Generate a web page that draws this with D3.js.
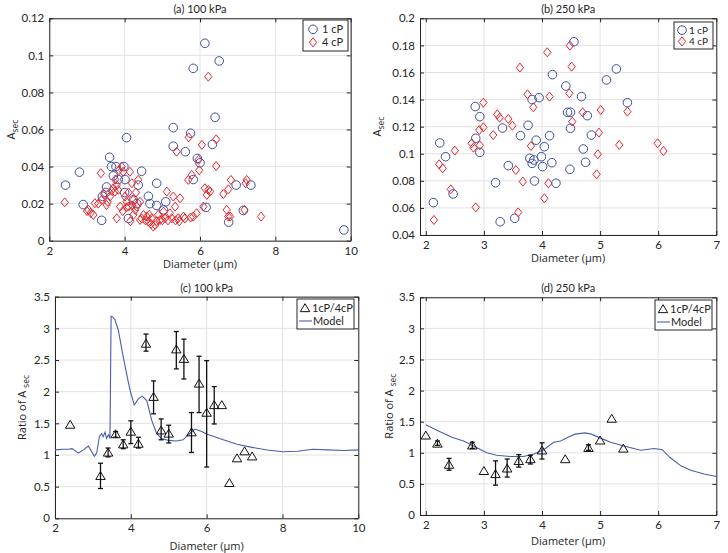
<!DOCTYPE html>
<html>
<head>
<meta charset="utf-8">
<script src="https://cdnjs.cloudflare.com/ajax/libs/d3/7.8.5/d3.min.js"></script>
<style>
  body { margin: 0; background: #fff; }
  svg { display: block; font-family: Lato, "Liberation Sans", sans-serif; font-weight: 400; }
</style>
</head>
<body>
<svg id="fig" width="728" height="553"></svg>
<script>
// (a) 100 kPa, A_sec vs diameter
var a1cP = [[2.43,0.030],[2.80,0.037],[2.90,0.0195],[3.39,0.011],[3.41,0.024],[3.50,0.026],[3.52,0.029],[3.60,0.045],
  [3.65,0.040],[3.70,0.035],[3.77,0.040],[3.83,0.033],[3.98,0.040],[4.01,0.033],[4.00,0.026],[4.05,0.0556],[4.10,0.012],
  [4.23,0.022],[4.36,0.030],[4.45,0.0375],[4.32,0.020],[4.63,0.024],[4.67,0.020],[4.85,0.031],[4.85,0.019],[5.03,0.0166],
  [5.09,0.021],[5.29,0.061],[5.29,0.051],[5.61,0.048],[5.75,0.058],[5.82,0.093],[5.82,0.033],[5.93,0.0444],[6.00,0.042],
  [6.13,0.1065],[6.16,0.018],[6.33,0.052],[6.40,0.0666],[6.51,0.097],[6.76,0.010],[6.96,0.030],[7.15,0.0163],[7.35,0.030],
  [9.82,0.0058]];
var a4cP = [[2.41,0.0207],[3.04,0.0166],[3.17,0.0139],[3.21,0.0202],[3.37,0.0364],[3.39,0.022],[3.52,0.0193],[3.61,0.0238],
  [3.70,0.0283],[3.74,0.0265],[3.79,0.030],[3.83,0.0274],[3.79,0.0121],[3.88,0.0184],[3.92,0.040],[3.96,0.0372],[4.01,0.0238],
  [4.05,0.021],[4.10,0.0184],[4.14,0.0372],[4.19,0.031],[4.23,0.0139],[4.23,0.022],[4.28,0.0166],[4.32,0.0184],[4.36,0.0328],
  [4.41,0.021],[4.41,0.0112],[4.50,0.0139],[4.59,0.013],[4.63,0.0103],[4.72,0.0121],[4.76,0.0076],[4.81,0.0085],[4.89,0.0139],
  [4.94,0.0112],[5.03,0.0157],[5.07,0.0121],[5.12,0.0265],[5.20,0.0148],[5.25,0.0121],[5.29,0.0238],[5.34,0.0184],[5.38,0.048],
  [5.42,0.0121],[5.47,0.0229],[5.56,0.013],[5.70,0.0558],[5.69,0.0328],[5.78,0.0355],[5.82,0.013],[5.91,0.0148],[5.96,0.0436],
  [5.98,0.038],[6.05,0.0517],[6.09,0.0184],[6.13,0.0283],[6.18,0.0247],[6.22,0.0274],[6.27,0.0265],[6.22,0.0885],[6.43,0.0547],
  [6.43,0.0403],[6.62,0.0252],[6.71,0.0166],[6.75,0.013],[6.75,0.0277],[6.82,0.0328],[6.80,0.013],[7.18,0.0166],[7.21,0.031],
  [7.24,0.0328],[7.62,0.013],[3.30,0.020],[3.45,0.025],[3.55,0.021],[3.65,0.027],[3.75,0.033],[3.85,0.038],[3.95,0.016],
  [4.05,0.018],[4.15,0.0105],[4.20,0.019],[4.30,0.026],[4.45,0.012],[4.55,0.011],[4.65,0.014],[4.70,0.009],[4.85,0.0105],
  [5.00,0.011],[5.15,0.011],[5.35,0.011],[5.45,0.0105],[5.60,0.012],[5.75,0.0125],[4.10,0.026],[3.00,0.016],[3.10,0.015]];

// (b) 250 kPa
var b1cP = [[2.13,0.0639],[2.24,0.108],[2.34,0.0978],[2.47,0.0703],[2.85,0.1348],[2.86,0.1114],[2.93,0.1274],[2.93,0.101],
  [3.28,0.0498],[3.32,0.119],[3.42,0.0912],[3.20,0.0786],[3.53,0.0523],[3.63,0.1133],[3.76,0.121],[3.79,0.0966],[3.83,0.140],
  [3.83,0.0929],[3.86,0.0954],[3.87,0.0799],[3.90,0.110],[3.95,0.1414],[3.99,0.0978],[4.01,0.0905],[4.04,0.1052],[4.13,0.1133],
  [4.17,0.0934],[4.18,0.1584],[4.24,0.0782],[4.41,0.150],[4.44,0.1306],[4.48,0.0885],[4.49,0.1306],[4.49,0.1188],[4.55,0.1827],
  [4.68,0.1422],[4.71,0.1035],[4.75,0.0937],[4.78,0.1281],[4.85,0.1138],[5.11,0.1545],[5.28,0.1626],[5.47,0.1377]];
var b4cP = [[2.14,0.0511],[2.23,0.0922],[2.29,0.0892],[2.43,0.0737],[2.50,0.1023],[2.86,0.0604],[2.79,0.1077],[2.82,0.1045],
  [2.92,0.1175],[2.93,0.1062],[2.99,0.1377],[2.99,0.1195],[3.16,0.1138],[3.23,0.1291],[3.27,0.1266],[3.42,0.1257],[3.49,0.1207],
  [3.55,0.088],[3.59,0.0567],[3.62,0.1636],[3.67,0.0794],[3.75,0.1439],[3.81,0.1057],[3.85,0.1343],[4.04,0.0671],[4.09,0.1749],
  [4.11,0.0782],[4.13,0.1422],[4.47,0.1446],[4.48,0.1798],[4.51,0.1643],[4.52,0.1237],[4.70,0.1306],[4.94,0.0848],[4.96,0.0996],
  [4.98,0.1156],[5.01,0.1323],[5.33,0.1065],[5.47,0.1311],[5.99,0.1077],[6.09,0.102]];

// (c) 100 kPa ratio 1cP/4cP with error bars (null = no bar)
var cDiam  = [2.4, 3.2, 3.4, 3.6, 3.8, 4.0, 4.2, 4.4, 4.6, 4.8, 5.0, 5.2, 5.4, 5.6, 5.8, 6.0, 6.2, 6.4, 6.6, 6.8, 7.0, 7.2];
var cRatio = [1.48, 0.67, 1.04, 1.33, 1.17, 1.37, 1.18, 2.76, 1.92, 1.39, 1.34, 2.67, 2.52, 1.36, 2.13, 1.67, 1.79, 1.79, 0.56, 0.95, 1.06, 0.98];
var cLow   = [null, 0.47, 0.97, 1.28, 1.10, 1.18, 1.11, 2.64, 1.65, 1.24, 1.19, 2.36, 2.20, 1.04, 1.67, 0.81, 1.49, null, null, null, null, null];
var cHigh  = [null, 0.87, 1.11, 1.37, 1.24, 1.54, 1.28, 2.91, 2.17, 1.57, 1.47, 2.95, 2.83, 1.67, 2.56, 2.49, 2.08, null, null, null, null, null];
var cModelX = [2.0, 2.2, 2.35, 2.45, 2.62, 2.75, 2.88, 3.04, 3.10, 3.17, 3.23, 3.27, 3.32, 3.36, 3.41, 3.45, 3.48, 3.52,
  3.58, 3.67, 3.80, 3.90, 3.98, 4.09, 4.20, 4.30, 4.42, 4.55, 4.68, 4.81, 5.0, 5.2, 5.38, 5.52, 5.69, 5.87, 6.0, 6.4, 6.8,
  7.2, 7.6, 8.0, 8.4, 8.8, 9.2, 9.6, 10.0];
var cModelY = [1.08, 1.09, 1.09, 1.10, 1.03, 1.08, 1.14, 0.98, 1.03, 1.29, 1.34, 1.29, 1.36, 1.26, 1.32, 1.26, 3.19, 3.18,
  3.14, 2.97, 2.55, 2.25, 2.02, 1.79, 1.89, 1.93, 1.86, 1.55, 1.34, 1.26, 1.23, 1.22, 1.24, 1.32, 1.41, 1.37, 1.33, 1.25, 1.17,
  1.12, 1.08, 1.05, 1.06, 1.09, 1.08, 1.07, 1.08];

// (d) 250 kPa
var dDiam  = [2.0, 2.2, 2.4, 2.8, 3.0, 3.2, 3.4, 3.6, 3.8, 4.0, 4.4, 4.8, 5.0, 5.2, 5.4];
var dRatio = [1.28, 1.15, 0.81, 1.12, 0.71, 0.66, 0.75, 0.87, 0.90, 1.04, 0.90, 1.08, 1.20, 1.55, 1.07];
var dLow   = [null, 1.12, 0.72, 1.07, null, 0.48, 0.61, 0.77, 0.82, 0.90, null, 1.04, null, null, null];
var dHigh  = [null, 1.19, 0.91, 1.17, null, 0.87, 0.90, 0.97, 0.96, 1.16, null, 1.13, null, null, null];
var dModelX = [2.0, 2.2, 2.45, 2.65, 2.88, 3.05, 3.22, 3.45, 3.68, 3.86, 4.03, 4.2, 4.32, 4.43, 4.57, 4.74, 4.85, 5.0, 5.18,
  5.41, 5.7, 5.93, 6.07, 6.21, 6.39, 6.56, 6.79, 7.0];
var dModelY = [1.45, 1.36, 1.25, 1.19, 1.08, 1.00, 0.96, 0.94, 0.94, 0.98, 1.05, 1.17, 1.19, 1.24, 1.30, 1.32, 1.30, 1.24, 1.17,
  1.11, 1.04, 1.07, 1.05, 0.92, 0.79, 0.72, 0.66, 0.62];

var xTicksWide = [2, 4, 6, 8, 10],
    xTicksNarrow = [2, 3, 4, 5, 6, 7],
    yTicksA = [0, 0.02, 0.04, 0.06, 0.08, 0.1, 0.12],
    yTicksB = [0.04, 0.06, 0.08, 0.1, 0.12, 0.14, 0.16, 0.18, 0.2],
    yTicksRatio = [0, 0.5, 1, 1.5, 2, 2.5, 3, 3.5];

var blue = "#3b4ea3", red = "#e5262b", modelBlue = "#4a5db0", ink = "#262626";
var labelFont = "'Open Sans', 'Liberation Sans', sans-serif";

var svg = d3.select("#fig");

function diamond(s) {
    var w = s * 0.85, h = s * 1.05;
    return "M0," + (-h) + "L" + w + ",0L0," + h + "L" + (-w) + ",0Z";
}
function triangle(s) {
    return "M0," + (-s) + "L" + (s * 1.1) + "," + (s * 0.85) + "L" + (-s * 1.1) + "," + (s * 0.85) + "Z";
}

function panel(o) {
    var g = svg.append("g");
    var x = d3.scaleLinear().domain(o.xd).range([o.l, o.r]),
        y = d3.scaleLinear().domain(o.yd).range([o.b, o.t]);

    // grid
    g.append("g").selectAll("line").data(o.xt).enter().append("line")
        .attr("x1", function(d) { return x(d); }).attr("x2", function(d) { return x(d); })
        .attr("y1", o.t).attr("y2", o.b)
        .attr("stroke", "#e2e2e2");
    g.append("g").selectAll("line").data(o.yt).enter().append("line")
        .attr("y1", function(d) { return y(d); }).attr("y2", function(d) { return y(d); })
        .attr("x1", o.l).attr("x2", o.r)
        .attr("stroke", "#e2e2e2");

    // axes
    var fmt = function(d) { return d3.format("~g")(d); };
    var ax = [
        g.append("g").attr("transform", "translate(0," + o.b + ")")
            .call(d3.axisBottom(x).tickValues(o.xt).tickSize(-4).tickSizeOuter(0).tickPadding(6).tickFormat(fmt)),
        g.append("g").attr("transform", "translate(0," + o.t + ")")
            .call(d3.axisTop(x).tickValues(o.xt).tickSize(-4).tickSizeOuter(0).tickFormat("")),
        g.append("g").attr("transform", "translate(" + o.l + ",0)")
            .call(d3.axisLeft(y).tickValues(o.yt).tickSize(-4).tickSizeOuter(0).tickPadding(5).tickFormat(fmt)),
        g.append("g").attr("transform", "translate(" + o.r + ",0)")
            .call(d3.axisRight(y).tickValues(o.yt).tickSize(-4).tickSizeOuter(0).tickFormat(""))
    ];
    ax.forEach(function(a) {
        a.selectAll("path,line").attr("stroke", ink);
        a.selectAll("text").attr("fill", ink).attr("font-size", 11.5).attr("font-family", "Lato, sans-serif");
    });

    g.append("text").attr("x", (o.l + o.r) / 2).attr("y", o.t - 5)
        .attr("text-anchor", "middle").attr("font-size", 11).attr("fill", ink).text(o.title);
    g.append("text").attr("x", (o.l + o.r) / 2).attr("y", o.xly)
        .attr("font-family", labelFont).attr("font-weight", 400)
        .attr("text-anchor", "middle").attr("font-size", 11).attr("fill", ink).text("Diameter (\u00b5m)");

    var yl = g.append("text").attr("transform", "translate(" + o.ylx + "," + ((o.t + o.b) / 2) + ") rotate(-90)")
        .attr("font-family", labelFont)
        .attr("text-anchor", "middle").attr("font-size", 11).attr("fill", ink);
    yl.append("tspan").text(o.ylab);
    yl.append("tspan").attr("dy", 3).attr("font-size", 8.5).text(o.ysub);

    return {g: g, x: x, y: y};
}

function scatterPanel(p, ones, fours) {
    p.g.append("g").selectAll("circle").data(ones).enter().append("circle")
        .attr("cx", function(d) { return p.x(d[0]); })
        .attr("cy", function(d) { return p.y(d[1]); })
        .attr("r", 4.3).attr("fill", "none").attr("stroke", blue).attr("stroke-width", 1);
    p.g.append("g").selectAll("path").data(fours).enter().append("path")
        .attr("transform", function(d) { return "translate(" + p.x(d[0]) + "," + p.y(d[1]) + ")"; })
        .attr("d", diamond(4.3)).attr("fill", "none").attr("stroke", red).attr("stroke-width", 1);
}

function ratioPanel(p, xs, ys, lo, hi, mx, my) {
    var line = d3.line().x(function(d) { return p.x(d[0]); }).y(function(d) { return p.y(d[1]); });
    p.g.append("path").datum(d3.zip(mx, my)).attr("d", line)
        .attr("fill", "none").attr("stroke", modelBlue).attr("stroke-width", 1.1);
    var pts = xs.map(function(d, i) { return {x: d, y: ys[i], lo: lo[i], hi: hi[i]}; });
    var bars = p.g.append("g").selectAll("g").data(pts.filter(function(d) { return d.lo !== null; }))
        .enter().append("g").attr("stroke", "#111").attr("stroke-width", 1.3);
    bars.append("line").attr("x1", function(d) { return p.x(d.x); }).attr("x2", function(d) { return p.x(d.x); })
        .attr("y1", function(d) { return p.y(d.lo); }).attr("y2", function(d) { return p.y(d.hi); });
    ["lo", "hi"].forEach(function(k) {
        bars.append("line").attr("x1", function(d) { return p.x(d.x) - 2.5; }).attr("x2", function(d) { return p.x(d.x) + 2.5; })
            .attr("y1", function(d) { return p.y(d[k]); }).attr("y2", function(d) { return p.y(d[k]); });
    });
    p.g.append("g").selectAll("path").data(pts).enter().append("path")
        .attr("transform", function(d) { return "translate(" + p.x(d.x) + "," + p.y(d.y) + ")"; })
        .attr("d", triangle(4.3)).attr("fill", "none").attr("stroke", "#111").attr("stroke-width", 1);
}

function scatterLegend(x0, y0, w, h, mx, tx, fs) {
    var g = svg.append("g");
    g.append("rect").attr("x", x0).attr("y", y0).attr("width", w).attr("height", h)
        .attr("fill", "#fff").attr("stroke", ink).attr("stroke-width", 1);
    g.append("circle").attr("cx", x0 + mx).attr("cy", y0 + h * 0.3).attr("r", 4.3)
        .attr("fill", "none").attr("stroke", blue);
    g.append("path").attr("transform", "translate(" + (x0 + mx) + "," + (y0 + h * 0.72) + ")")
        .attr("d", diamond(4.3)).attr("fill", "none").attr("stroke", red);
    g.append("text").attr("x", x0 + tx).attr("y", y0 + h * 0.3 + 4).attr("font-size", fs).attr("fill", ink).text("1 cP");
    g.append("text").attr("x", x0 + tx).attr("y", y0 + h * 0.72 + 4).attr("font-size", fs).attr("fill", ink).text("4 cP");
}

function ratioLegend(x0, y0, w, h) {
    var g = svg.append("g");
    g.append("rect").attr("x", x0).attr("y", y0).attr("width", w).attr("height", h)
        .attr("fill", "#fff").attr("stroke", ink).attr("stroke-width", 1);
    g.append("path").attr("transform", "translate(" + (x0 + 8) + "," + (y0 + 9) + ")")
        .attr("d", triangle(4.3)).attr("fill", "none").attr("stroke", "#111");
    g.append("line").attr("x1", x0 + 2).attr("x2", x0 + 15).attr("y1", y0 + 22).attr("y2", y0 + 22)
        .attr("stroke", modelBlue).attr("stroke-width", 1.1);
    g.append("text").attr("x", x0 + 15).attr("y", y0 + 13).attr("font-size", 11).attr("fill", ink).text("1cP/4cP");
    g.append("text").attr("x", x0 + 16).attr("y", y0 + 26).attr("font-size", 11).attr("fill", ink).text("Model");
}

var pa = panel({l: 49.3, r: 350.7, t: 18.3, b: 240.7, xd: [2, 10], yd: [0, 0.12], xt: xTicksWide, yt: yTicksA,
    title: "(a) 100 kPa", xly: 268, ylx: 15, ylab: "A", ysub: "sec"});
scatterPanel(pa, a1cP, a4cP);
scatterLegend(303, 20, 45, 31, 10, 19, 11);

var pb = panel({l: 420, r: 716.3, t: 18.3, b: 235, xd: [1.9, 7], yd: [0.04, 0.2], xt: xTicksNarrow, yt: yTicksB,
    title: "(b) 250 kPa", xly: 262, ylx: 381, ylab: "A", ysub: "sec"});
scatterPanel(pb, b1cP, b4cP);
scatterLegend(674, 22, 39, 27, 8, 15, 10);

var pc = panel({l: 55, r: 358.3, t: 296.7, b: 518.3, xd: [2, 10], yd: [0, 3.5], xt: xTicksWide, yt: yTicksRatio,
    title: "(c) 100 kPa", xly: 550, ylx: 26, ylab: "Ratio of A ", ysub: "sec"});
ratioPanel(pc, cDiam, cRatio, cLow, cHigh, cModelX, cModelY);
ratioLegend(297, 299, 57, 30);

var pd = panel({l: 420, r: 716.3, t: 297.3, b: 515, xd: [1.9, 7], yd: [0, 3.5], xt: xTicksNarrow, yt: yTicksRatio,
    title: "(d) 250 kPa", xly: 545, ylx: 393, ylab: "Ratio of A ", ysub: "sec"});
ratioPanel(pd, dDiam, dRatio, dLow, dHigh, dModelX, dModelY);
ratioLegend(655, 300, 57, 30);
</script>
</body>
</html>
